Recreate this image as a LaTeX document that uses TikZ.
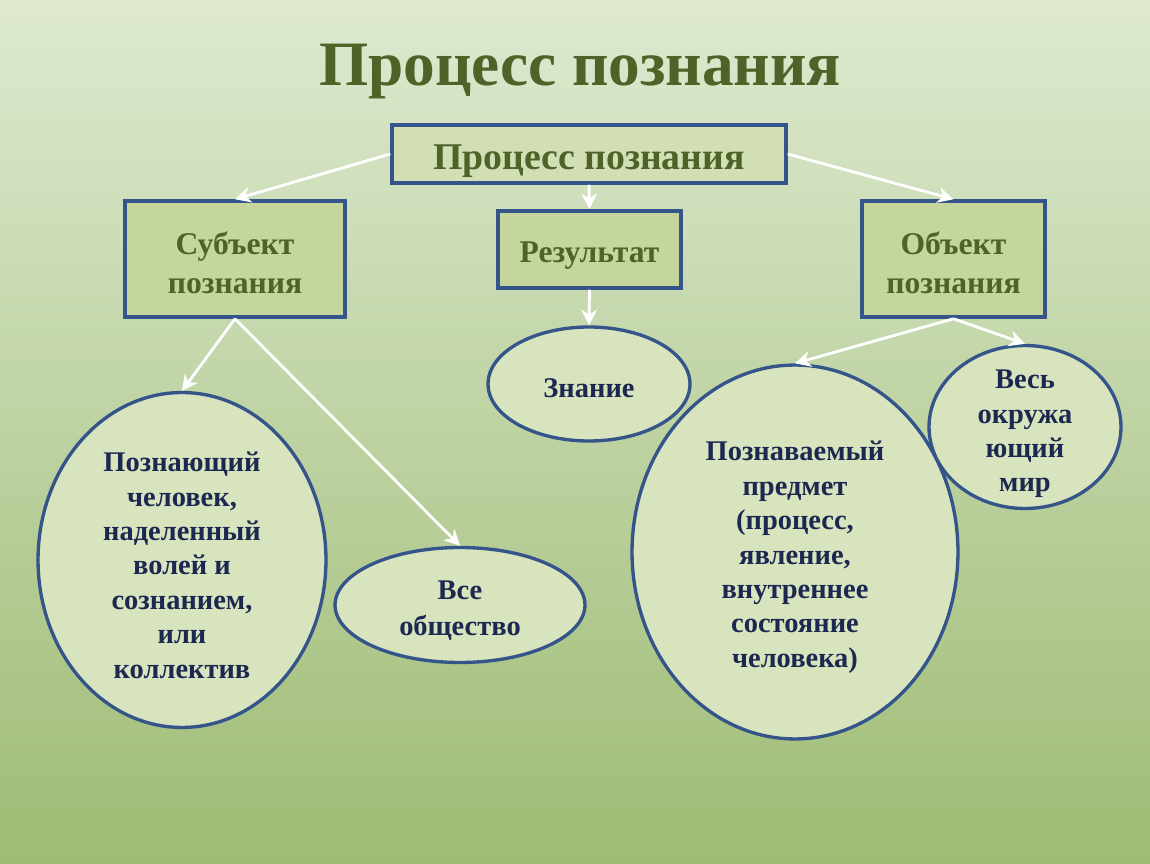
\documentclass[tikz,border=0pt]{standalone}
\usepackage{fontspec}
\setmainfont{Liberation Serif}
\usetikzlibrary{shapes.geometric,arrows.meta}
\definecolor{bgtop}{HTML}{DEE9D0}
\definecolor{bgbot}{HTML}{9EBC74}
\definecolor{boxfill}{HTML}{C4D69C}
\definecolor{topfill}{HTML}{D2DFB4}
\definecolor{ellfill}{HTML}{D8E4BE}
\definecolor{edge}{HTML}{34548A}
\definecolor{olive}{HTML}{4F6228}
\definecolor{navy}{HTML}{1C2850}
\tikzset{
  boxnode/.style={draw=edge,line width=2pt,fill=boxfill,rectangle,inner sep=0pt},
  ellnode/.style={draw=edge,line width=1.9pt,fill=ellfill,ellipse,inner sep=0pt},
  boxtxt/.style={text=olive,font=\bfseries\fontsize{18}{22}\selectfont,align=center,inner sep=0pt},
  elltxt/.style={text=navy,font=\bfseries\fontsize{16.2}{19.6}\selectfont,align=center,inner sep=0pt},
  conn/.style={draw=white,line width=1.6pt,-{Stealth[length=9pt,width=9pt]}}
}
\begin{document}
\begin{tikzpicture}[x=0.02cm,y=-0.02cm]
\shade[top color=bgtop,bottom color=bgbot] (0,0) rectangle (1150,864);
\useasboundingbox (0,0) rectangle (1150,864);
\node[text=olive,font=\bfseries\fontsize{36}{40}\selectfont] (title) at (580,72) {Процесс познания};
\node[boxnode,fill=topfill,minimum width=7.88cm,minimum height=1.16cm,
  label={[boxtxt,font=\bfseries\fontsize{21.5}{24}\selectfont,yshift=-4pt]center:{Процесс познания}}] (top) at (589,154) {};
\node[boxnode,minimum width=4.4cm,minimum height=2.32cm,
  label={[boxtxt,yshift=-2pt]center:{Субъект\\познания}}] (subj) at (235,259) {};
\node[boxnode,minimum width=3.66cm,minimum height=1.54cm,
  label={[boxtxt,yshift=-3.4pt]center:{Результат}}] (res) at (589.5,249.5) {};
\node[boxnode,minimum width=3.66cm,minimum height=2.32cm,
  label={[boxtxt,yshift=-2pt]center:{Объект\\познания}}] (obj) at (953.5,259) {};
\node[ellnode,minimum width=4.04cm,minimum height=2.28cm,
  label={[elltxt,yshift=-2.3pt]center:{Знание}}] (zn) at (589,384) {};
\node[ellnode,minimum width=5.76cm,minimum height=6.7cm,
  label={[elltxt,yshift=-3pt]center:{Познающий\\человек,\\наделенный\\волей и\\сознанием,\\или\\коллектив}}] (chel) at (182,560) {};
\node[ellnode,minimum width=5.0cm,minimum height=2.3cm,
  label={[elltxt,font=\bfseries\fontsize{16.2}{20.4}\selectfont,yshift=-3.4pt]center:{Все\\общество}}] (obsh) at (460,605) {};
\node[ellnode,minimum width=6.52cm,minimum height=7.48cm,
  label={[elltxt,yshift=-3pt]center:{Познаваемый\\предмет\\(процесс,\\явление,\\внутреннее\\состояние\\человека)}}] (pred) at (795,552) {};
\node[ellnode,minimum width=3.84cm,minimum height=3.26cm,
  label={[elltxt,yshift=-4pt]center:{Весь\\окружа\\ющий\\мир}}] (mir) at (1025,427) {};
\draw[conn] (top.west) -- (subj.north);
\draw[conn] (top.east) -- (obj.north);
\draw[conn] (top.south) -- (res.north);
\draw[conn] (res.south) -- (zn.north);
\draw[conn] (subj.south) -- (chel.north);
\draw[conn] (subj.south) -- (obsh.north);
\draw[conn] (obj.south) -- (pred.north);
\draw[conn] (obj.south) -- (mir.north);
\end{tikzpicture}
\end{document}
